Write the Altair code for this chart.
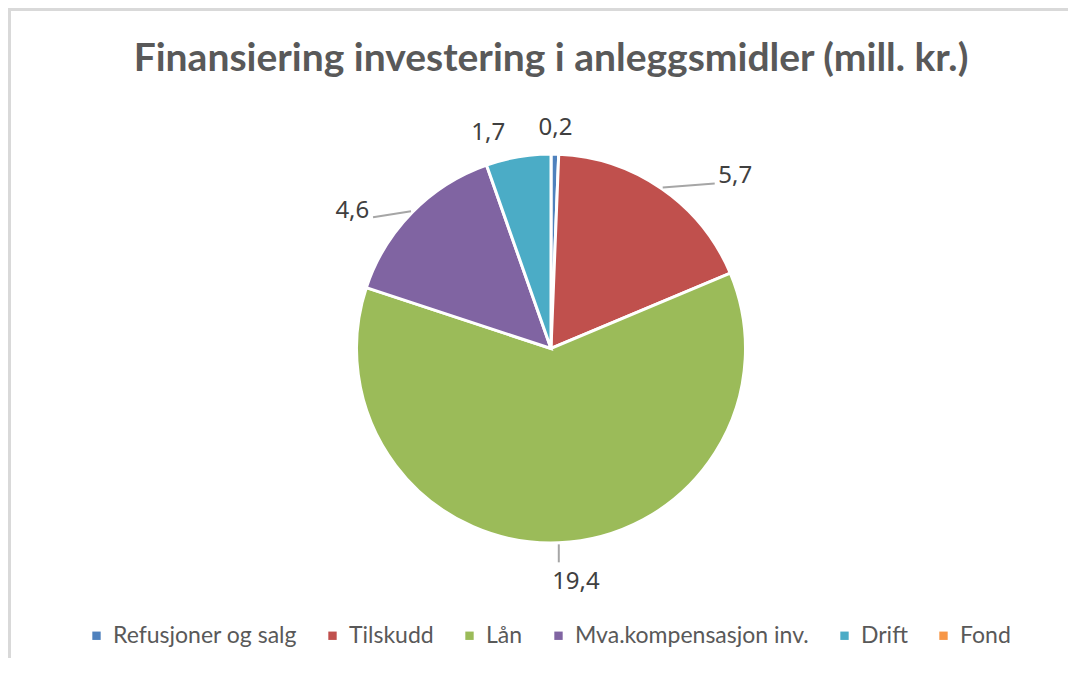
import math
import altair as alt
import pandas as pd

# ---- data ----
categories = ["Refusjoner og salg", "Tilskudd", "Lån", "Mva.kompensasjon inv.", "Drift", "Fond"]
values = [0.2, 5.7, 19.4, 4.6, 1.7, 0.0]
colors = ["#4F81BD", "#C0504D", "#9BBB59", "#8064A2", "#4BACC6", "#F79646"]
title_text = "Finansiering investering i anleggsmidler (mill. kr.)"

# ---- layout ----
W, H = 1060, 650
CX, CY = 543, 340.5
R = 194.5
LABEL_R = 225
label_nudge = {"Refusjoner og salg": (0, 4), "Tilskudd": (56, 12), "Lån": (16, 9),
               "Mva.kompensasjon inv.": (-38, 20), "Drift": (-25, 6)}
leader_vec = {"Tilskudd": (52, -4), "Lån": (0, 18), "Mva.kompensasjon inv.": (-38, 6)}

df = pd.DataFrame({"kategori": categories, "verdi": values, "idx": list(range(len(categories)))})
df["etikett"] = [f"{v:.1f}".replace(".", ",") for v in values]

total = sum(values)
cum = 0.0
lab_rows, lead_rows = [], []
for c, v, lab in zip(categories, values, df["etikett"]):
    if v <= 0:
        continue
    a = (cum + v / 2) / total * 2 * math.pi
    cum += v
    s, co = math.sin(a), math.cos(a)
    ndx, ndy = label_nudge.get(c, (0, 0))
    lab_rows.append({"kategori": c, "etikett": lab,
                     "x": CX + LABEL_R * s + ndx, "y": CY - LABEL_R * co + ndy})
    if c in leader_vec:
        x0, y0 = CX + (R + 1.5) * s, CY - (R + 1.5) * co
        ex, ey = leader_vec[c]
        lead_rows.append({"x": x0, "y": y0, "x2": x0 + ex, "y2": y0 + ey})
lab_df = pd.DataFrame(lab_rows)
lead_df = pd.DataFrame(lead_rows)

pie = alt.Chart(df[df["verdi"] > 0]).mark_arc(
    radius=R, stroke="white", strokeWidth=3, x=CX, y=CY
).encode(
    theta=alt.Theta("verdi:Q", stack=True),
    color=alt.Color(
        "kategori:N",
        sort=categories,
        scale=alt.Scale(domain=categories, range=colors),
        legend=alt.Legend(
            title=None, orient="none", legendX=77, legendY=616, direction="horizontal",
            columns=6, symbolType="square", symbolSize=70, symbolStrokeWidth=0,
            labelFont="Lato", labelFontSize=23, labelColor="#595959", labelLimit=500,
            labelOffset=5, columnPadding=24, padding=0,
        ),
    ),
    order=alt.Order("idx:Q"),
)

leaders = alt.Chart(lead_df).mark_rule(color="#A6A6A6", strokeWidth=2).encode(
    x=alt.X("x:Q", scale=None), y=alt.Y("y:Q", scale=None),
    x2="x2:Q", y2="y2:Q",
)

labels = alt.Chart(lab_df).mark_text(
    font="Noto Sans", fontSize=24, color="#404040", align="center", baseline="middle"
).encode(
    x=alt.X("x:Q", scale=None), y=alt.Y("y:Q", scale=None), text="etikett:N"
)

title = alt.Chart(pd.DataFrame({"t": [title_text]})).mark_text(
    font="Lato", fontSize=39, fontWeight="bold", color="#595959",
    align="center", baseline="alphabetic"
).encode(x=alt.value(CX), y=alt.value(63), text="t:N")

frame_top = alt.Chart(pd.DataFrame({"a": [0]})).mark_rule(color="#D9D9D9", strokeWidth=3).encode(
    x=alt.value(0), x2=alt.value(W), y=alt.value(1.5))
frame_left = alt.Chart(pd.DataFrame({"a": [0]})).mark_rule(color="#D9D9D9", strokeWidth=3).encode(
    x=alt.value(1.5), y=alt.value(0), y2=alt.value(H))

chart = alt.layer(frame_top, frame_left, pie, leaders, labels, title).properties(
    width=W, height=H, padding=0, autosize="none",
    view=alt.ViewBackground(stroke="transparent", strokeWidth=0),
).configure_view(strokeWidth=0, stroke="transparent")

chart.save("out.html", embed_options={"renderer": "svg", "actions": False})
